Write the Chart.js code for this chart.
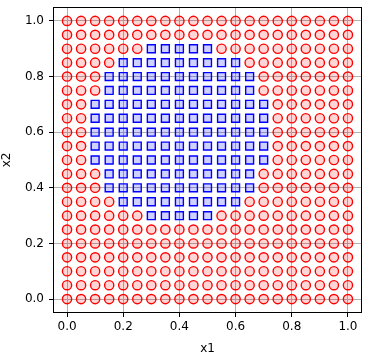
<!DOCTYPE html>
<html><head><meta charset="utf-8">
<script src="https://cdn.jsdelivr.net/npm/chart.js@4.4.0/dist/chart.umd.min.js"></script>
<style>html,body{margin:0;padding:0;background:#fff}#wrap{width:369px;height:356px}</style>
</head><body><div id="wrap"><canvas id="c" width="369" height="356"></canvas></div>
<script>
// grid coordinates (both axes)
const gridValues = [0.00,0.05,0.10,0.15,0.20,0.25,0.30,0.35,0.40,0.45,0.50,0.55,0.60,0.65,0.70,0.75,0.80,0.85,0.90,0.95,1.00];
// blue class rows: [x2, x1 from, x1 to]
const blueRows = [
  [0.90,0.30,0.50],
  [0.85,0.20,0.60],
  [0.80,0.15,0.65],
  [0.75,0.15,0.65],
  [0.70,0.10,0.70],
  [0.65,0.10,0.70],
  [0.60,0.10,0.70],
  [0.55,0.10,0.70],
  [0.50,0.10,0.70],
  [0.45,0.15,0.65],
  [0.40,0.15,0.65],
  [0.35,0.20,0.60],
  [0.30,0.30,0.50]
];
const tickLabels = [0.0,0.2,0.4,0.6,0.8,1.0];

const eps = 1e-6;
function isBlue(x, y) {
  for (const [ry, a, b] of blueRows) {
    if (Math.abs(ry - y) < eps && x >= a - eps && x <= b + eps) return true;
  }
  return false;
}
const redPts = [], bluePts = [];
for (const y of gridValues) for (const x of gridValues) {
  (isBlue(x, y) ? bluePts : redPts).push({x, y});
}

const frame = {
  id: 'frame',
  afterDatasetsDraw(chart) {
    const {ctx, chartArea: a} = chart;
    ctx.save();
    ctx.strokeStyle = '#000';
    ctx.lineWidth = 1;
    ctx.strokeRect(Math.round(a.left) + 0.5, Math.round(a.top) + 0.5, Math.round(a.right - a.left) - 1, Math.round(a.bottom - a.top) - 1);
    ctx.restore();
  }
};
const fixTicks = (s) => { s.ticks = tickLabels.map(v => ({value: v})); };
const font = {family: 'DejaVu Sans', size: 12};

new Chart(document.getElementById('c'), {
  type: 'scatter',
  data: {datasets: [
    {data: redPts, pointStyle: 'circle', pointRadius: 4.6, pointHoverRadius: 4.6, borderWidth: 1.4,
     borderColor: '#ff0000', backgroundColor: 'rgba(255,0,0,0.16)'},
    {data: bluePts, pointStyle: 'rect', pointRadius: 5.6, pointHoverRadius: 5.6, borderWidth: 1.4,
     borderColor: '#0000ff', backgroundColor: 'rgba(0,0,255,0.18)'}
  ]},
  options: {
    responsive: false, animation: false, events: [],
    layout: {padding: {left: 0, right: 6, top: 5, bottom: 0}},
    plugins: {legend: {display: false}, tooltip: {enabled: false}},
    scales: {
      x: {type: 'linear', min: -0.05, max: 1.05,
        afterBuildTicks: fixTicks,
        afterFit: (s) => { s.height = 43; s.paddingLeft = 0; s.paddingRight = 0; },
        grid: {color: '#b0b0b0', lineWidth: 1, tickLength: 4, tickColor: '#000', drawTicks: true},
        border: {display: false},
        ticks: {color: '#000', font, padding: 3, maxRotation: 0, callback: v => v.toFixed(1)},
        title: {display: true, text: 'x1', color: '#000', font, padding: {top: 2, bottom: 0}}
      },
      y: {type: 'linear', min: -0.05, max: 1.05,
        afterBuildTicks: fixTicks,
        afterFit: (s) => { s.width = 53; s.paddingTop = 0; s.paddingBottom = 0; },
        grid: {color: '#b0b0b0', lineWidth: 1, tickLength: 4, tickColor: '#000', drawTicks: true},
        border: {display: false},
        ticks: {color: '#000', font, padding: 5, callback: v => v.toFixed(1)},
        title: {display: true, text: 'x2', color: '#000', font, padding: {top: 0, bottom: 4}}
      }
    }
  },
  plugins: [frame]
});
</script></body></html>
